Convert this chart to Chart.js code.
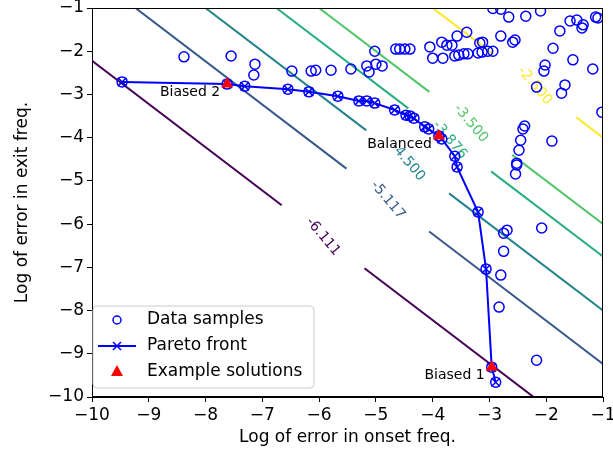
<!DOCTYPE html>
<html>
<head>
<meta charset="utf-8">
<script src="https://cdn.jsdelivr.net/npm/chart.js@4.4.1/dist/chart.umd.min.js"></script>
<style>
  html, body { margin: 0; padding: 0; background: #fff; }
</style>
</head>
<body>
<canvas id="chart" width="613" height="452"></canvas>
<script>
// all samples that are not on the front
var sampleX = [-8.38, -7.55, -7.13, -7.15, -6.48, -6.14, -6.06, -5.79, -5.44, -5.16,
  -5.12, -5.00, -4.89, -5.02, -4.65, -4.58, -4.49, -4.40, -4.05, -4.00,
  -3.82, -3.84, -3.75, -3.66, -3.57, -3.40, -3.61, -3.54, -3.45, -3.38,
  -3.20, -3.13, -3.03, -2.94, -3.17, -3.12, -2.80, -2.59, -2.55, -2.94,
  -2.80, -2.66, -2.36, -2.10, -1.88, -1.76, -1.58, -1.46, -1.37, -1.35,
  -1.13, -1.09, -2.02, -2.04, -1.53, -1.18, -1.67, -1.73, -2.17, -1.02,
  -2.38, -2.41, -2.45, -1.90, -2.48, -2.52, -2.52, -2.54, -2.69, -2.75,
  -2.08, -2.75, -2.80, -2.83, -2.17];
var sampleY = [-2.13, -2.11, -2.30, -2.55, -2.46, -2.46, -2.44, -2.44, -2.41, -2.34,
  -2.48, -2.30, -2.34, -2.00, -1.95, -1.95, -1.95, -1.95, -1.90, -2.16,
  -2.16, -1.79, -1.86, -1.86, -1.65, -1.56, -2.11, -2.09, -2.06, -2.06,
  -2.04, -2.02, -2.00, -2.00, -1.81, -1.79, -1.65, -1.79, -1.74, -1.01,
  -1.03, -1.21, -1.19, -1.07, -1.93, -1.53, -1.30, -1.28, -1.46, -1.39,
  -1.21, -1.23, -2.32, -2.46, -2.20, -2.41, -2.78, -2.97, -2.83, -3.41,
  -3.73, -3.80, -4.06, -4.08, -4.29, -4.59, -4.63, -4.84, -6.14, -6.21,
  -6.09, -6.63, -7.18, -7.92, -9.15];

// pareto front
var paretoX = [-9.47, -7.62, -7.31, -6.55, -6.18, -5.67, -5.30, -5.16, -5.02, -4.67,
  -4.47, -4.40, -4.33, -4.14, -4.07, -3.89, -3.84, -3.61, -3.57, -3.20,
  -3.06, -2.96, -2.89];
var paretoY = [-2.71, -2.76, -2.81, -2.88, -2.94, -3.04, -3.15, -3.15, -3.20, -3.36,
  -3.48, -3.50, -3.55, -3.75, -3.80, -3.96, -4.03, -4.43, -4.68, -5.72,
  -7.04, -9.31, -9.66];

var exampleX = [-7.62, -3.89, -2.96];
var exampleY = [-2.76, -3.96, -9.31];
var exampleNames = ['Biased 2', 'Balanced', 'Biased 1'];

// contour levels of the mean log error (x + y) / 2
var contourLevels = [-6.111, -5.117, -4.500, -3.876, -3.500, -2.500];
var contourLabelAt = [-5.93, -4.79, -4.44, -3.70, -3.33, -2.20];
var contourColors = ['#440154', '#38598c', '#25838e', '#29af7f', '#52c569', '#fde725'];

var axisMin = -10, axisMax = -1;

var FONT = 'DejaVu Sans';
var BLUE = '#0000ff';

function pts(xs, ys) {
  return xs.map(function(v, i) { return {x: v, y: ys[i]}; });
}

function minusLabel(v) {
  return (v < 0 ? '\u2212' : '') + Math.abs(v);
}

var contourPlugin = {
  id: 'contours',
  beforeDatasetsDraw: function(chart) {
    var ctx = chart.ctx, a = chart.chartArea;
    var xs = chart.scales.x, ys = chart.scales.y;
    ctx.save();
    ctx.beginPath();
    ctx.rect(a.left, a.top, a.right - a.left, a.bottom - a.top);
    ctx.clip();
    contourLevels.forEach(function(c, i) {
      var p = function(t) {
        return {x: xs.getPixelForValue(t), y: ys.getPixelForValue(2 * c - t)};
      };
      var A = p(-14), B = p(3), L = p(contourLabelAt[i]);
      var len = Math.hypot(B.x - A.x, B.y - A.y);
      var dx = (B.x - A.x) / len, dy = (B.y - A.y) / len;
      var gap = 52;
      ctx.strokeStyle = contourColors[i];
      ctx.lineWidth = 2;
      ctx.beginPath();
      ctx.moveTo(A.x, A.y);
      ctx.lineTo(L.x - gap * dx, L.y - gap * dy);
      ctx.moveTo(L.x + gap * dx, L.y + gap * dy);
      ctx.lineTo(B.x, B.y);
      ctx.stroke();

      ctx.save();
      ctx.translate(L.x, L.y);
      ctx.rotate(50 * Math.PI / 180);
      ctx.fillStyle = contourColors[i];
      ctx.font = '14px "' + FONT + '"';
      ctx.textAlign = 'center';
      ctx.textBaseline = 'middle';
      ctx.fillText(c.toFixed(3), 0, 0);
      ctx.restore();
    });
    ctx.restore();
  },
  afterDatasetsDraw: function(chart) {
    var ctx = chart.ctx, a = chart.chartArea;
    var xs = chart.scales.x, ys = chart.scales.y;
    ctx.save();
    // annotations
    ctx.fillStyle = '#000';
    ctx.font = '14px "' + FONT + '"';
    ctx.textAlign = 'right';
    ctx.textBaseline = 'alphabetic';
    exampleNames.forEach(function(n, i) {
      var px = xs.getPixelForValue(exampleX[i]);
      var py = ys.getPixelForValue(exampleY[i]);
      ctx.fillText(n, px - 7, py + 12);
    });
    // frame
    ctx.strokeStyle = '#000';
    ctx.lineWidth = 1;
    ctx.strokeRect(a.left + 0.5, a.top + 0.5, a.right - a.left - 1, a.bottom - a.top - 1);

    // legend
    var bx = a.left + 1, by = 306, bw = 221, bh = 82, r = 4;
    ctx.beginPath();
    ctx.moveTo(bx + r, by);
    ctx.arcTo(bx + bw, by, bx + bw, by + bh, r);
    ctx.arcTo(bx + bw, by + bh, bx, by + bh, r);
    ctx.arcTo(bx, by + bh, bx, by, r);
    ctx.arcTo(bx, by, bx + bw, by, r);
    ctx.closePath();
    ctx.fillStyle = 'rgba(255,255,255,0.8)';
    ctx.fill();
    ctx.strokeStyle = '#cccccc';
    ctx.stroke();

    var mx = bx + 24, tx = bx + 54;
    var rows = [by + 14, by + 40, by + 66];
    // circle
    ctx.strokeStyle = BLUE;
    ctx.lineWidth = 1.5;
    ctx.beginPath();
    ctx.arc(mx, rows[0], 4, 0, Math.PI * 2);
    ctx.stroke();
    // line with x
    ctx.lineWidth = 2;
    ctx.beginPath();
    ctx.moveTo(bx + 5, rows[1]);
    ctx.lineTo(bx + 43, rows[1]);
    ctx.stroke();
    ctx.lineWidth = 1.5;
    ctx.beginPath();
    ctx.moveTo(mx - 4, rows[1] - 4); ctx.lineTo(mx + 4, rows[1] + 4);
    ctx.moveTo(mx - 4, rows[1] + 4); ctx.lineTo(mx + 4, rows[1] - 4);
    ctx.stroke();
    // triangle
    ctx.fillStyle = '#ff0000';
    ctx.beginPath();
    ctx.moveTo(mx, rows[2] - 7);
    ctx.lineTo(mx + 6, rows[2] + 4);
    ctx.lineTo(mx - 6, rows[2] + 4);
    ctx.closePath();
    ctx.fill();

    ctx.fillStyle = '#000';
    ctx.font = '17px "' + FONT + '"';
    ctx.textAlign = 'left';
    ctx.textBaseline = 'middle';
    ctx.fillText('Data samples', tx, rows[0]);
    ctx.fillText('Pareto front', tx, rows[1]);
    ctx.fillText('Example solutions', tx, rows[2]);
    ctx.restore();
  }
};

function axis(title, isX) {
  return {
    type: 'linear',
    min: axisMin,
    max: axisMax,
    ticks: {
      stepSize: 1,
      color: '#000',
      padding: 3,
      font: {family: FONT, size: 17},
      callback: minusLabel
    },
    grid: {
      drawOnChartArea: false,
      drawTicks: true,
      tickLength: 5,
      tickColor: '#000'
    },
    border: {display: true, color: '#000', width: 1},
    title: {
      display: true,
      text: title,
      color: '#000',
      font: {family: FONT, size: 17},
      padding: isX ? {top: 0, bottom: 4} : {top: 12, bottom: 0}
    },
    afterFit: function(s) {
      if (isX) {
        s.height = 55;
        s.paddingLeft = 0;
        s.paddingRight = 0;
      } else {
        s.width = 92;
        s.paddingTop = 0;
        s.paddingBottom = 0;
      }
    }
  };
}

var allX = sampleX.concat(paretoX);
var allY = sampleY.concat(paretoY);

new Chart(document.getElementById('chart'), {
  type: 'scatter',
  data: {
    datasets: [
      {
        label: 'Example solutions',
        data: pts(exampleX, exampleY),
        pointStyle: 'triangle',
        pointRadius: 7,
        backgroundColor: '#ff0000',
        borderColor: '#ff0000',
        borderWidth: 0,
        order: 0,
        clip: 0
      },
      {
        label: 'Pareto front',
        data: pts(paretoX, paretoY),
        showLine: true,
        borderColor: BLUE,
        borderWidth: 2,
        pointStyle: 'crossRot',
        pointRadius: 6,
        pointBorderWidth: 1.5,
        pointBorderColor: BLUE,
        order: 1,
        clip: 0
      },
      {
        label: 'Data samples',
        data: pts(allX, allY),
        pointStyle: 'circle',
        pointRadius: 5,
        borderWidth: 1.5,
        borderColor: BLUE,
        backgroundColor: 'rgba(0,0,0,0)',
        order: 2,
        clip: 0
      }
    ]
  },
  options: {
    responsive: false,
    animation: false,
    devicePixelRatio: 1,
    layout: {padding: {left: 0, right: 10, top: 8, bottom: 0}},
    plugins: {
      legend: {display: false},
      tooltip: {enabled: false}
    },
    scales: {
      x: axis('Log of error in onset freq.', true),
      y: axis('Log of error in exit freq.', false)
    }
  },
  plugins: [contourPlugin]
});
</script>
</body>
</html>
